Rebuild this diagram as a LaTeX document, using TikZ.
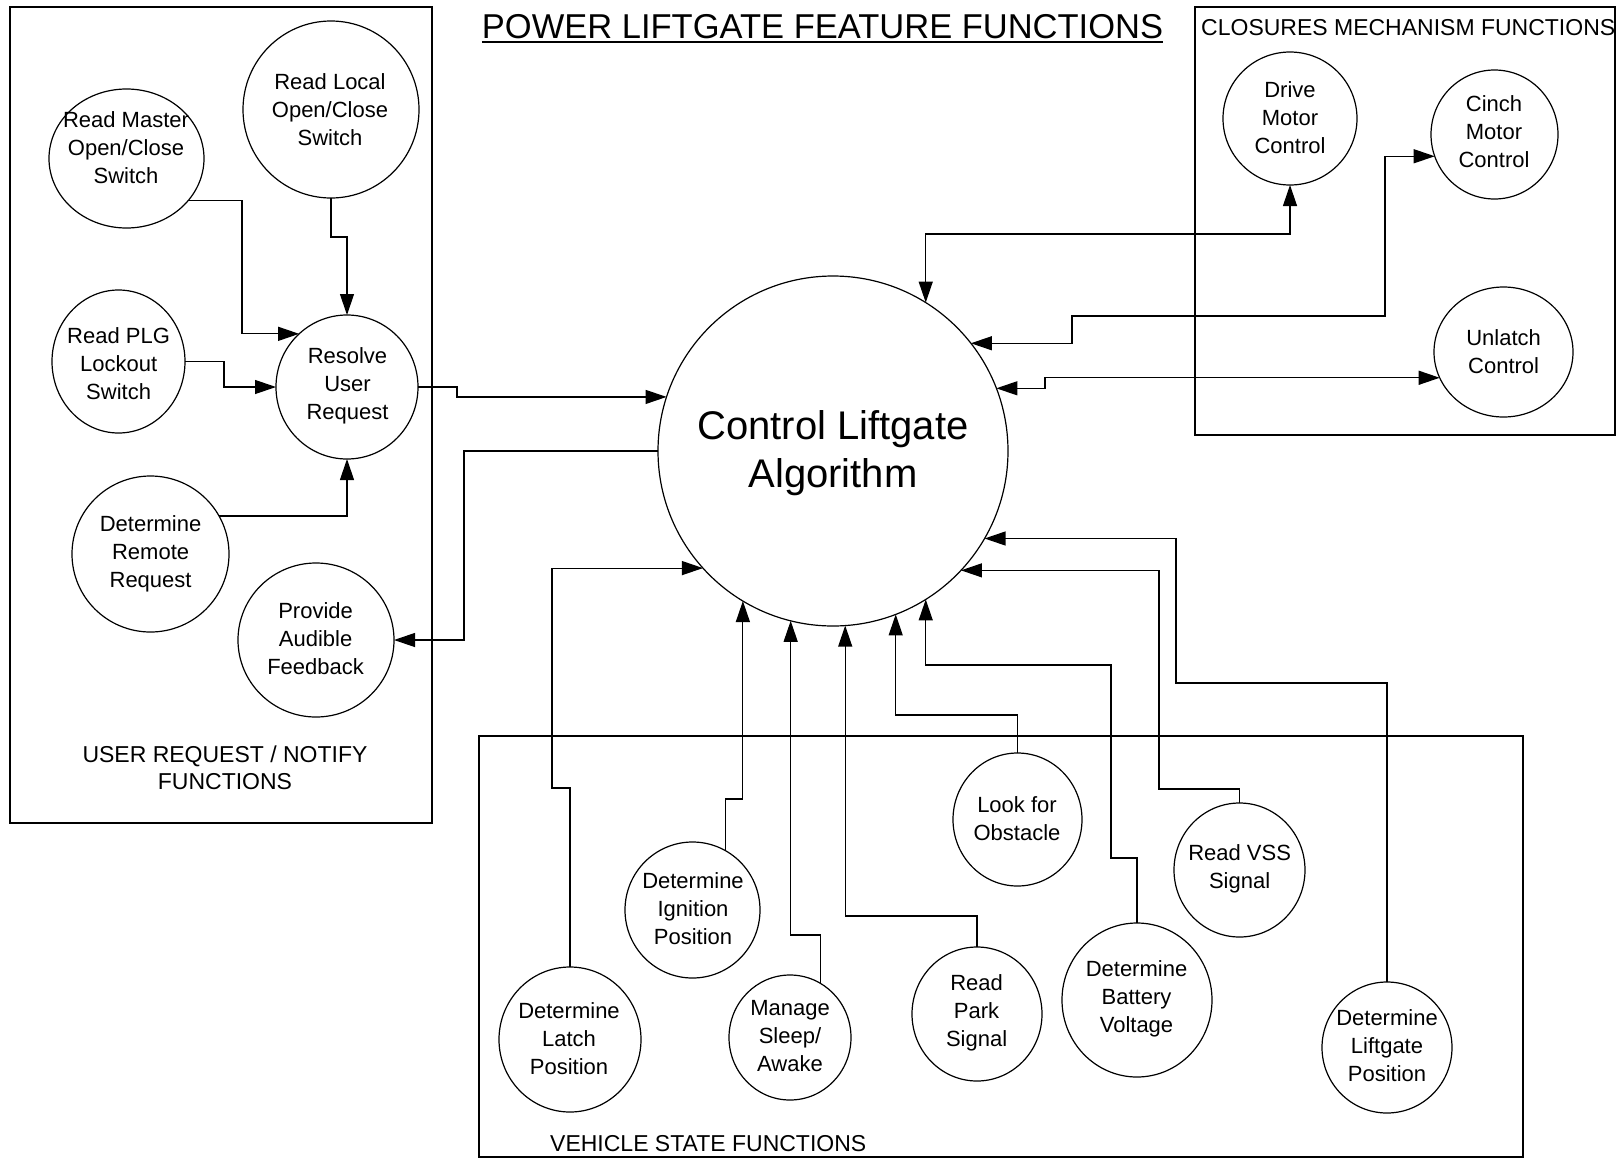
\documentclass[tikz,border=0pt]{standalone}
\usepackage{fontspec}
\setmainfont{Liberation Sans}
\usetikzlibrary{shapes.geometric,arrows.meta}

\begin{document}
\begin{tikzpicture}[x=1pt,y=-1pt,
  fn/.style 2 args={ellipse, draw, line width=1.2pt, inner sep=0pt, outer sep=0pt,
                    minimum width=#1, minimum height=#2},
  ftext/.style={font=\fontsize{22}{28}\selectfont, align=center, inner sep=0pt},
  bigtext/.style={font=\fontsize{40}{48}\selectfont, align=center, inner sep=0pt},
  grp/.style={draw, line width=2.2pt},
  grplabel/.style={font=\fontsize{23}{27}\selectfont, align=center, inner sep=0pt},
  wire/.style={line width=1.2pt},
  arr/.style={wire, -{Triangle[length=21pt,width=14pt]}},
  biarr/.style={wire, {Triangle[length=21pt,width=14pt]}-{Triangle[length=21pt,width=14pt]}},
]
\fill[white] (0,0) rectangle (1617,1160);
\useasboundingbox (0,0) rectangle (1617,1160);

% ---------- heading ----------
\node[font=\fontsize{34.5}{40}\selectfont, inner sep=0pt] (title) at (822.5,26.5)
  {POWER LIFTGATE FEATURE FUNCTIONS};
\draw[line width=2pt] ([yshift=-3.5pt]title.base west) -- ([yshift=-3.5pt]title.base east);

% ---------- group frames ----------
\draw[grp] (10,7) rectangle (432,823);
\draw[grp] (1195,7) rectangle (1615,435);
\draw[grp] (479,736) rectangle (1523,1157);
\node[grplabel] (urn) at (225,768) {USER REQUEST / NOTIFY\\FUNCTIONS};
\node[grplabel, anchor=west] (cmf) at (1201,28) {CLOSURES MECHANISM FUNCTIONS};
\node[grplabel, anchor=west] (vsf) at (550,1144) {VEHICLE STATE FUNCTIONS};

% ---------- user request / notify functions ----------
\node[fn={155pt}{139pt}] (rm) at (126.5,158.5) {};
\node[ftext] (rm-t) at (126,147.5) {Read Master\\Open/Close\\Switch};
\node[fn={176pt}{177pt}] (rl) at (331,109.5) {};
\node[ftext] (rl-t) at (330,109.3) {Read Local\\Open/Close\\Switch};
\node[fn={133pt}{143pt}] (rp) at (118.5,361.5) {};
\node[ftext] (rp-t) at (118.6,364) {Read PLG\\Lockout\\Switch};
\node[fn={142pt}{144pt}] (ru) at (347,387) {};
\node[ftext] (ru-t) at (347.5,385.7) {Resolve\\User\\Request};
\node[fn={157pt}{156pt}] (dr) at (150.5,554) {};
\node[ftext] (dr-t) at (150.6,553.8) {Determine\\Remote\\Request};
\node[fn={156pt}{154pt}] (pa) at (316,640) {};
\node[ftext] (pa-t) at (315.6,638.4) {Provide\\Audible\\Feedback};

% ---------- central algorithm ----------
\node[fn={350pt}{350pt}] (ctrl) at (833,451) {};
\node[bigtext] (ctrl-t) at (833,453.5) {Control Liftgate\\Algorithm};

% ---------- closures mechanism functions ----------
\node[fn={134pt}{133pt}] (dm) at (1290,118.5) {};
\node[ftext] (dm-t) at (1290,117.6) {Drive\\Motor\\Control};
\node[fn={127pt}{129pt}] (cm) at (1494.5,134.5) {};
\node[ftext] (cm-t) at (1494,132) {Cinch\\Motor\\Control};
\node[fn={139pt}{130pt}] (ul) at (1503.5,352) {};
\node[ftext] (ul-t) at (1503.6,352) {Unlatch\\Control};

% ---------- vehicle state functions ----------
\node[fn={142pt}{145pt}] (dl) at (570,1039.5) {};
\node[ftext] (dl-t) at (569,1038.5) {Determine\\Latch\\Position};
\node[fn={135pt}{136pt}] (di) at (692.5,910) {};
\node[ftext] (di-t) at (693,908.6) {Determine\\Ignition\\Position};
\node[fn={122pt}{125pt}] (ms) at (790,1037.5) {};
\node[ftext] (ms-t) at (790,1036.5) {Manage\\Sleep/\\Awake};
\node[fn={130pt}{134pt}] (rk) at (977,1014) {};
\node[ftext] (rk-t) at (976.6,1012.7) {Read\\Park\\Signal};
\node[fn={129pt}{133pt}] (lo) at (1017.5,819.5) {};
\node[ftext] (lo-t) at (1017,818.3) {Look for\\Obstacle};
\node[fn={150pt}{154pt}] (bv) at (1137,1000) {};
\node[ftext] (bv-t) at (1136.5,998.3) {Determine\\Battery\\Voltage};
\node[fn={131pt}{134pt}] (vs) at (1239.5,870) {};
\node[ftext] (vs-t) at (1239.6,868.9) {Read VSS\\Signal};
\node[fn={130pt}{131pt}] (lp) at (1387,1047.5) {};
\node[ftext] (lp-t) at (1387,1045.7) {Determine\\Liftgate\\Position};

% ---------- user request flows ----------
\draw[arr] (rm.-34.7) -| (242,260) |- (ru.132.2);
\draw[arr] (rl.south) |- (ru.north |- 0,237) -- (ru.north);
\draw[arr] (rp.east) -| (224,375) |- (ru.west);
\draw[arr] (dr.29) -| (ru.south);
\draw[arr] (ru.east) -| (457,392) |- (ctrl.162);
\draw[arr] (ctrl.west) -| (464,560) |- (pa.east);

% ---------- mechanism control (both directions) ----------
\draw[biarr] (ctrl.58.3) |- (dm.south |- 0,234) -- (dm.south);
\draw[biarr] (ctrl.38.1) -| (1072,330) |- (1385,316) |- (cm.200.7);
\draw[biarr] (ctrl.21.1) -| (1045,383) |- (ul.202.2);

% ---------- vehicle state inputs ----------
\draw[arr] (dl.north) |- (552,788) |- (ctrl.222.85);
\draw[arr] (di.61.4) |- (735,799) -| (ctrl.239.4);
\draw[arr] (ms.61.1) |- (805,935) -| (ctrl.256.1);
\draw[arr] (rk.north) |- (900,916) -| (ctrl.274.3);
\draw[arr] (lo.north) |- (950,715) -| (ctrl.291.45);
\draw[arr] (bv.north) |- (1111,858) |- (1000,665) -| (ctrl.302.5);
\draw[arr] (vs.north) |- (1159,789) |- (ctrl.317.15);
\draw[arr] (lp.north) |- (1176,683) |- (ctrl.330.6);
\end{tikzpicture}
\end{document}
